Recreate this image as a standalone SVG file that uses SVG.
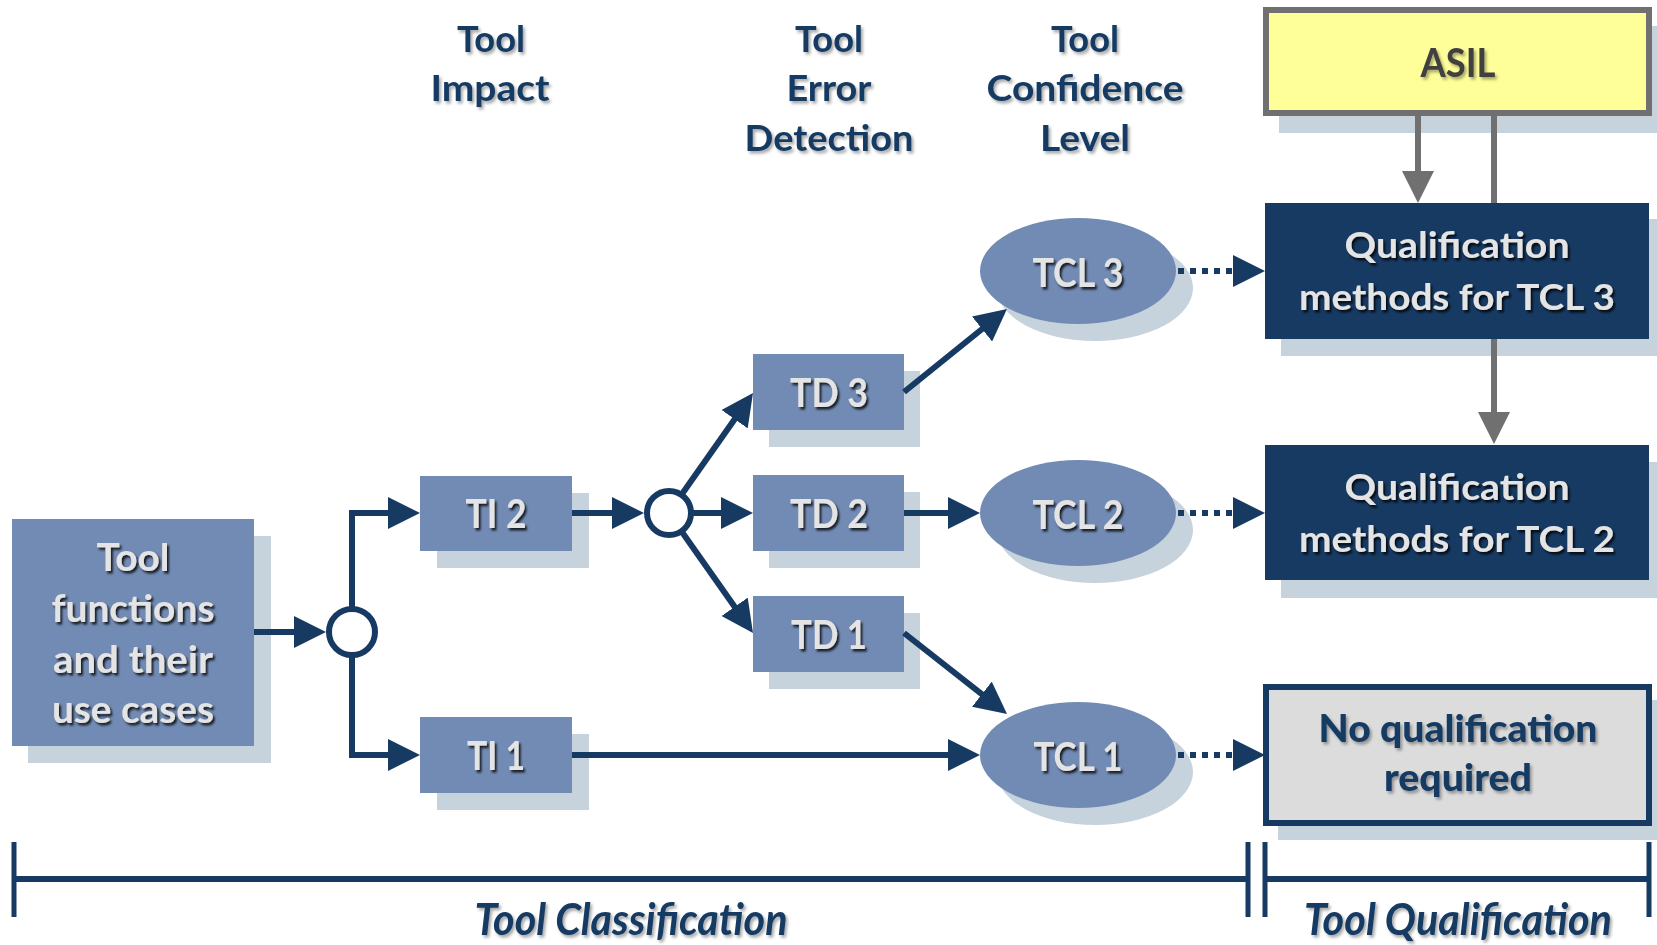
<svg xmlns="http://www.w3.org/2000/svg" width="1657" height="945" viewBox="0 0 1657 945">
  <defs>
    <filter id="tsd" x="-10%" y="-30%" width="125%" height="170%">
      <feDropShadow dx="2" dy="2.5" stdDeviation="1.2" flood-color="#000" flood-opacity="0.8"/>
    </filter>
    <filter id="tsl" x="-10%" y="-30%" width="125%" height="170%">
      <feDropShadow dx="2" dy="2.5" stdDeviation="1.5" flood-color="#000" flood-opacity="0.35"/>
    </filter>
    <marker id="ah" markerUnits="userSpaceOnUse" viewBox="0 0 32 32" markerWidth="32" markerHeight="32" refX="12" refY="16" orient="auto">
      <path d="M0,0 L32,16 L0,32 Z" fill="#173a63"/>
    </marker>
    <marker id="ahd" markerUnits="userSpaceOnUse" viewBox="0 0 32 32" markerWidth="32" markerHeight="32" refX="0" refY="16" orient="auto">
      <path d="M0,0 L32,16 L0,32 Z" fill="#173a63"/>
    </marker>
    <marker id="ahg" markerUnits="userSpaceOnUse" viewBox="0 0 32 32" markerWidth="32" markerHeight="32" refX="0" refY="16" orient="auto">
      <path d="M0,0 L32,16 L0,32 Z" fill="#707070"/>
    </marker>
  </defs>
  <style>
    .box{fill:#728bb4}
    .sh{fill:#c6d2dc}
    .q{fill:#173a63}
    .t{font-family:Lato,"Open Sans","Liberation Sans",sans-serif;font-weight:700;text-anchor:middle}
    .tl{fill:#e4e4e4;filter:url(#tsd)}
    .tn{fill:#173a63;filter:url(#tsl)}
    .c{fill:none;stroke:#173a63;stroke-width:6}
    .cd{fill:none;stroke:#173a63;stroke-width:6;stroke-dasharray:6 6}
    .cg{fill:none;stroke:#707070;stroke-width:6}
    .jn{fill:#fff;stroke:#173a63;stroke-width:6}
    .br{fill:none;stroke:#173a63}
  </style>

  <!-- column headings -->
  <g id="headings" class="t tn" font-size="37">
    <text x="491" y="52" textLength="68" lengthAdjust="spacingAndGlyphs">Tool</text>
    <text x="490" y="101" textLength="119" lengthAdjust="spacingAndGlyphs">Impact</text>
    <text x="829" y="52" textLength="68" lengthAdjust="spacingAndGlyphs">Tool</text>
    <text x="829" y="101" textLength="85" lengthAdjust="spacingAndGlyphs">Error</text>
    <text x="829" y="151" textLength="169" lengthAdjust="spacingAndGlyphs">Detection</text>
    <text x="1085" y="52" textLength="68" lengthAdjust="spacingAndGlyphs">Tool</text>
    <text x="1085" y="101" textLength="197" lengthAdjust="spacingAndGlyphs">Confidence</text>
    <text x="1085" y="151" textLength="90" lengthAdjust="spacingAndGlyphs">Level</text>
  </g>

  <!-- nodes -->
  <g id="tool-functions">
    <rect class="sh" x="28" y="536" width="243" height="227"/>
    <rect class="box" x="12" y="519" width="242" height="227"/>
    <g class="t tl" font-size="38">
      <text x="133" y="571" textLength="73" lengthAdjust="spacingAndGlyphs">Tool</text>
      <text x="133" y="622" textLength="163" lengthAdjust="spacingAndGlyphs">functions</text>
      <text x="133" y="673" textLength="160" lengthAdjust="spacingAndGlyphs">and their</text>
      <text x="133" y="723" textLength="162" lengthAdjust="spacingAndGlyphs">use cases</text>
    </g>
  </g>

  <g id="junction-ti">
    <circle class="jn" cx="352" cy="632" r="23"/>
  </g>

  <g id="ti2">
    <rect class="sh" x="437" y="493" width="152" height="75"/>
    <rect class="box" x="420" y="476" width="152" height="75"/>
    <text class="t tl" x="496" y="528" font-size="40" textLength="61" lengthAdjust="spacingAndGlyphs">TI 2</text>
  </g>

  <g id="ti1">
    <rect class="sh" x="437" y="734" width="152" height="76"/>
    <rect class="box" x="420" y="717" width="152" height="76"/>
    <text class="t tl" x="496" y="770" font-size="40" textLength="58" lengthAdjust="spacingAndGlyphs">TI 1</text>
  </g>

  <g id="junction-td">
    <circle class="jn" cx="669" cy="513" r="22"/>
  </g>

  <g id="td3">
    <rect class="sh" x="769" y="371" width="151" height="76"/>
    <rect class="box" x="753" y="354" width="151" height="76"/>
    <text class="t tl" x="829" y="407" font-size="40" textLength="78" lengthAdjust="spacingAndGlyphs">TD 3</text>
  </g>

  <g id="td2">
    <rect class="sh" x="769" y="492" width="151" height="76"/>
    <rect class="box" x="753" y="475" width="151" height="76"/>
    <text class="t tl" x="829" y="528" font-size="40" textLength="78" lengthAdjust="spacingAndGlyphs">TD 2</text>
  </g>

  <g id="td1">
    <rect class="sh" x="769" y="613" width="151" height="76"/>
    <rect class="box" x="753" y="596" width="151" height="76"/>
    <text class="t tl" x="829" y="649" font-size="40" textLength="76" lengthAdjust="spacingAndGlyphs">TD 1</text>
  </g>

  <g id="tcl3">
    <ellipse class="sh" cx="1095" cy="288" rx="98" ry="53"/>
    <ellipse class="box" cx="1078" cy="271" rx="98" ry="53"/>
    <text class="t tl" x="1078" y="287" font-size="40" textLength="91" lengthAdjust="spacingAndGlyphs">TCL 3</text>
  </g>

  <g id="tcl2">
    <ellipse class="sh" cx="1095" cy="530" rx="98" ry="53"/>
    <ellipse class="box" cx="1078" cy="513" rx="98" ry="53"/>
    <text class="t tl" x="1078" y="529" font-size="40" textLength="91" lengthAdjust="spacingAndGlyphs">TCL 2</text>
  </g>

  <g id="tcl1">
    <ellipse class="sh" cx="1095" cy="772" rx="98" ry="53"/>
    <ellipse class="box" cx="1078" cy="755" rx="98" ry="53"/>
    <text class="t tl" x="1078" y="771" font-size="40" textLength="89" lengthAdjust="spacingAndGlyphs">TCL 1</text>
  </g>

  <g id="asil">
    <rect class="sh" x="1279" y="26" width="378" height="107"/>
    <rect x="1266" y="10" width="383" height="103" fill="#ffff99" stroke="#707070" stroke-width="6"/>
    <text class="t" x="1458" y="77" font-size="40" fill="#404040" filter="url(#tsl)" textLength="75" lengthAdjust="spacingAndGlyphs">ASIL</text>
  </g>

  <g id="qual-tcl3">
    <rect class="sh" x="1281" y="219" width="376" height="137"/>
    <rect class="q" x="1265" y="203" width="384" height="136"/>
    <g class="t tl" font-size="37">
      <text x="1457" y="258" textLength="225" lengthAdjust="spacingAndGlyphs">Qualification</text>
      <text x="1457" y="310" textLength="316" lengthAdjust="spacingAndGlyphs">methods for TCL 3</text>
    </g>
  </g>

  <g id="qual-tcl2">
    <rect class="sh" x="1281" y="462" width="376" height="136"/>
    <rect class="q" x="1265" y="445" width="384" height="135"/>
    <g class="t tl" font-size="37">
      <text x="1457" y="500" textLength="225" lengthAdjust="spacingAndGlyphs">Qualification</text>
      <text x="1457" y="552" textLength="316" lengthAdjust="spacingAndGlyphs">methods for TCL 2</text>
    </g>
  </g>

  <g id="no-qual">
    <rect class="sh" x="1278" y="700" width="379" height="140"/>
    <rect x="1266" y="687" width="383" height="136" fill="#dcdcdc" stroke="#173a63" stroke-width="6"/>
    <g class="t tn" font-size="37" style="font-weight:900">
      <text x="1458" y="742" textLength="279" lengthAdjust="spacingAndGlyphs">No qualification</text>
      <text x="1458" y="791" textLength="148" lengthAdjust="spacingAndGlyphs">required</text>
    </g>
  </g>

  <!-- connectors -->
  <g id="connectors">
    <path class="c" d="M254,632 H306" marker-end="url(#ah)"/>
    <path class="c" d="M352,609 V513 H400" marker-end="url(#ah)"/>
    <path class="c" d="M352,655 V755 H400" marker-end="url(#ah)"/>
    <path class="c" d="M572,513 H624" marker-end="url(#ah)"/>
    <path class="c" d="M691,513 H733" marker-end="url(#ah)"/>
    <path class="c" d="M682,494 L741.5,409.4" marker-end="url(#ah)"/>
    <path class="c" d="M682,532 L741.5,616.6" marker-end="url(#ah)"/>
    <path class="c" d="M904,392 L991.4,321.5" marker-end="url(#ah)"/>
    <path class="c" d="M904,513 H960" marker-end="url(#ah)"/>
    <path class="c" d="M904,633 L991.3,701.6" marker-end="url(#ah)"/>
    <path class="c" d="M572,755 H960" marker-end="url(#ah)"/>
    <path class="cd" d="M1178,271 H1233" marker-end="url(#ahd)"/>
    <path class="cd" d="M1178,513 H1233" marker-end="url(#ahd)"/>
    <path class="cd" d="M1178,755 H1233" marker-end="url(#ahd)"/>
    <path class="cg" d="M1418,116 V171" marker-end="url(#ahg)"/>
    <path class="cg" d="M1494,116 V203"/>
    <path class="cg" d="M1494,339 V412" marker-end="url(#ahg)"/>
  </g>

  <!-- phase brackets -->
  <g id="phases">
    <path class="br" stroke-width="6" d="M14,879 H1248 M1265,879 H1649"/>
    <path class="br" stroke-width="5" d="M14,842 V917 M1248,842 V917 M1265,842 V917 M1649,842 V917"/>
    <g class="t tn" font-size="43" font-style="italic">
      <text x="631" y="935" textLength="313" lengthAdjust="spacingAndGlyphs">Tool Classification</text>
      <text x="1458" y="935" textLength="308" lengthAdjust="spacingAndGlyphs">Tool Qualification</text>
    </g>
  </g>
</svg>
